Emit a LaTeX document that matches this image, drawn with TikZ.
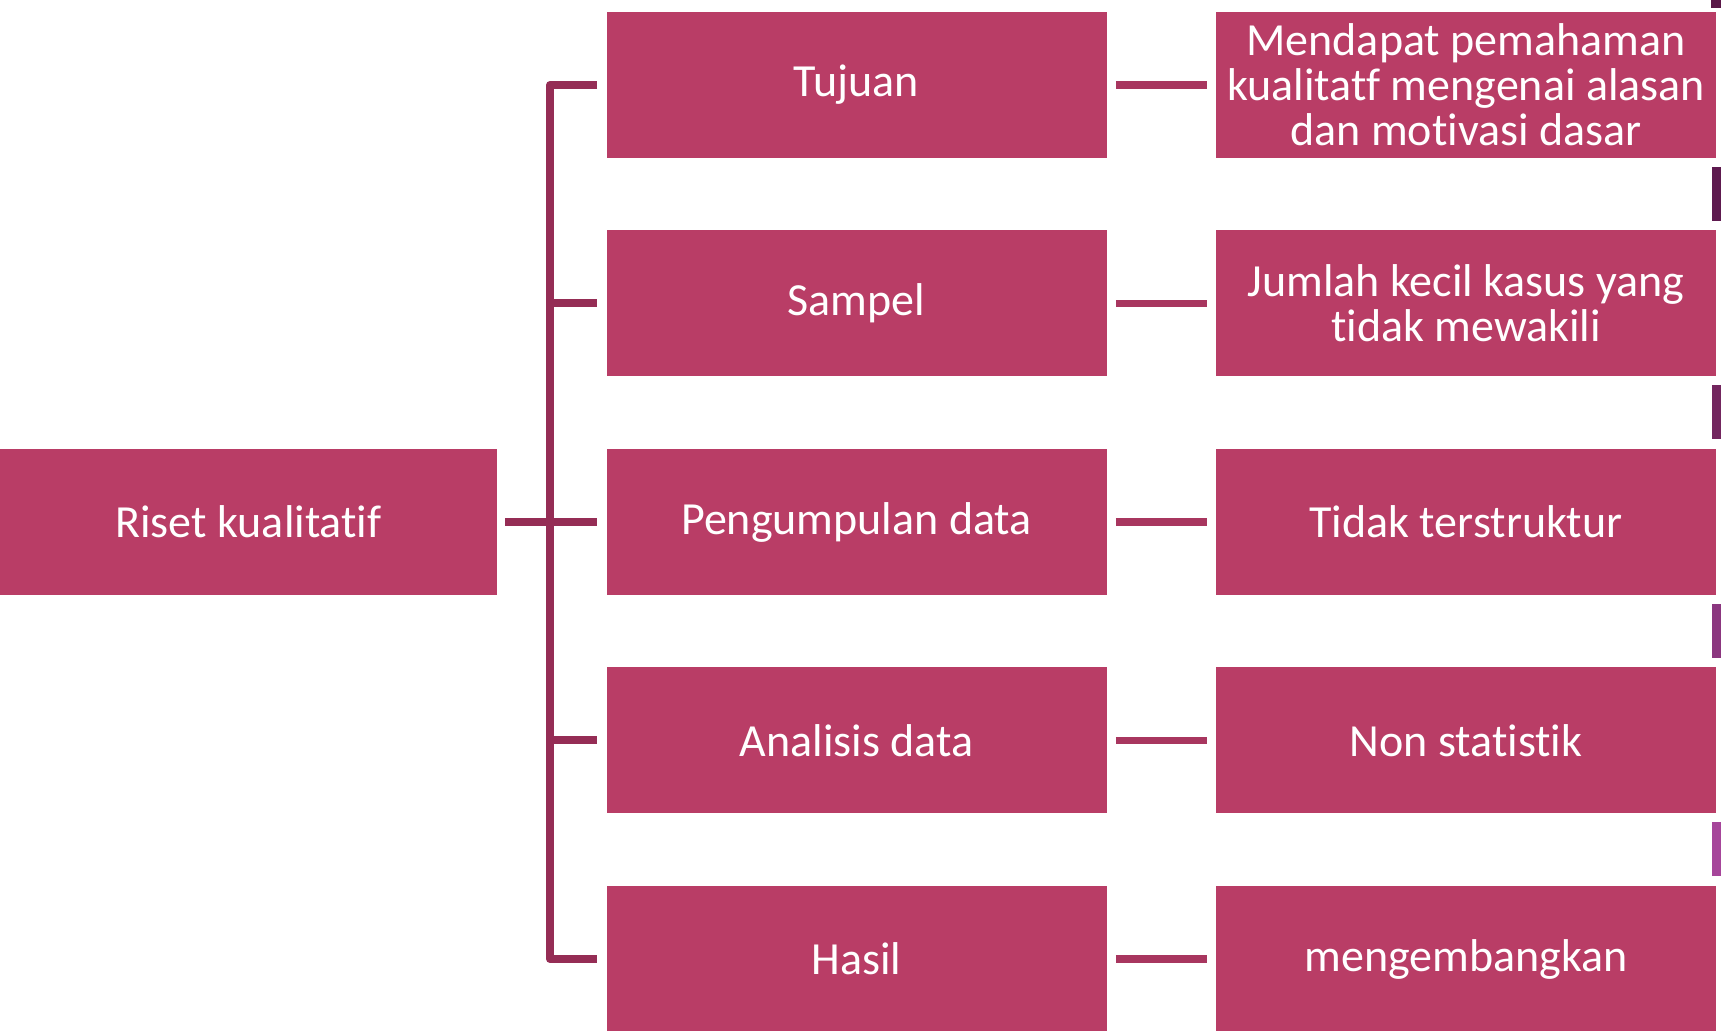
\documentclass[tikz,border=0pt]{standalone}
\usepackage{fontspec}
\setmainfont{Carlito}[RawFeature={-liga;-clig;-dlig}]
\definecolor{boxc}{HTML}{B93D66}
\definecolor{brc}{HTML}{952D55}
\definecolor{conc}{HTML}{A8365F}
\definecolor{bar0}{HTML}{5A1848}
\definecolor{bar1}{HTML}{5E1A4F}
\definecolor{bar2}{HTML}{73265F}
\definecolor{bar3}{HTML}{8B367F}
\definecolor{bar4}{HTML}{A6459A}
\begin{document}
\begin{tikzpicture}[x=0.5pt,y=-0.5pt,
  box/.style={fill=boxc, text=white, inner sep=0pt, minimum height=73pt,
    minimum width=250pt, align=center, font=\fontsize{23}{22.5}\selectfont},
  br/.style={draw=brc, line width=4pt},
  con/.style={draw=conc, line width=3.8pt},
  bar/.style={inner sep=0pt, minimum width=5pt, minimum height=27pt}]
\useasboundingbox (0,0) rectangle (1721,1031);
% left box
\node[box, minimum width=248.5pt] (L) at (248.5,522) {Riset kualitatif};
% middle boxes
\node[box] (m1) at (856.5,85) {Tujuan};
\node[box] (m2) at (856.5,303.5) {Sampel};
\node[box] (m3) at (856.5,522) {Pengumpulan data};
\node[box] (m4) at (856.5,740.5) {Analisis data};
\node[box] (m5) at (856.5,959) {Hasil};
% right boxes
\node[box] (r1) at (1466,85) {Mendapat pemahaman\\kualitatf mengenai alasan\\dan motivasi dasar};
\node[box] (r2) at (1466,303.5) {Jumlah kecil kasus yang\\tidak mewakili};
\node[box] (r3) at (1466,522) {Tidak terstruktur};
\node[box] (r4) at (1466,740.5) {Non statistik};
\node[box] (r5) at (1466,959) {mengembangkan};
% side bars
\node[bar, fill=bar0, minimum height=4pt, anchor=north east] (b0) at (1721,0) {};
\node[bar, fill=bar1] (b1) at (1716.5,194) {};
\node[bar, fill=bar2] (b2) at (1716.5,412.5) {};
\node[bar, fill=bar3] (b3) at (1716.5,631) {};
\node[bar, fill=bar4] (b4) at (1716.5,849.5) {};
% bracket
\coordinate (j) at (550,522);
\draw[br, line join=round, shorten <=4.5pt, shorten >=4.5pt] (m1.west) -| (j |- m5.west) -- (m5.west);
\draw[br, shorten <=4pt] (L.east) -- (j);
\draw[br, shorten >=4.5pt] (j) -- (m3.west);
\draw[br, shorten >=4.5pt] (j |- m2.west) -- (m2.west);
\draw[br, shorten >=4.5pt] (j |- m4.west) -- (m4.west);
% connectors middle-right
\foreach \i in {1,...,5}{
  \draw[con, shorten <=4.5pt, shorten >=4.5pt] (m\i.east) -- (r\i.west);
}
\end{tikzpicture}
\end{document}
